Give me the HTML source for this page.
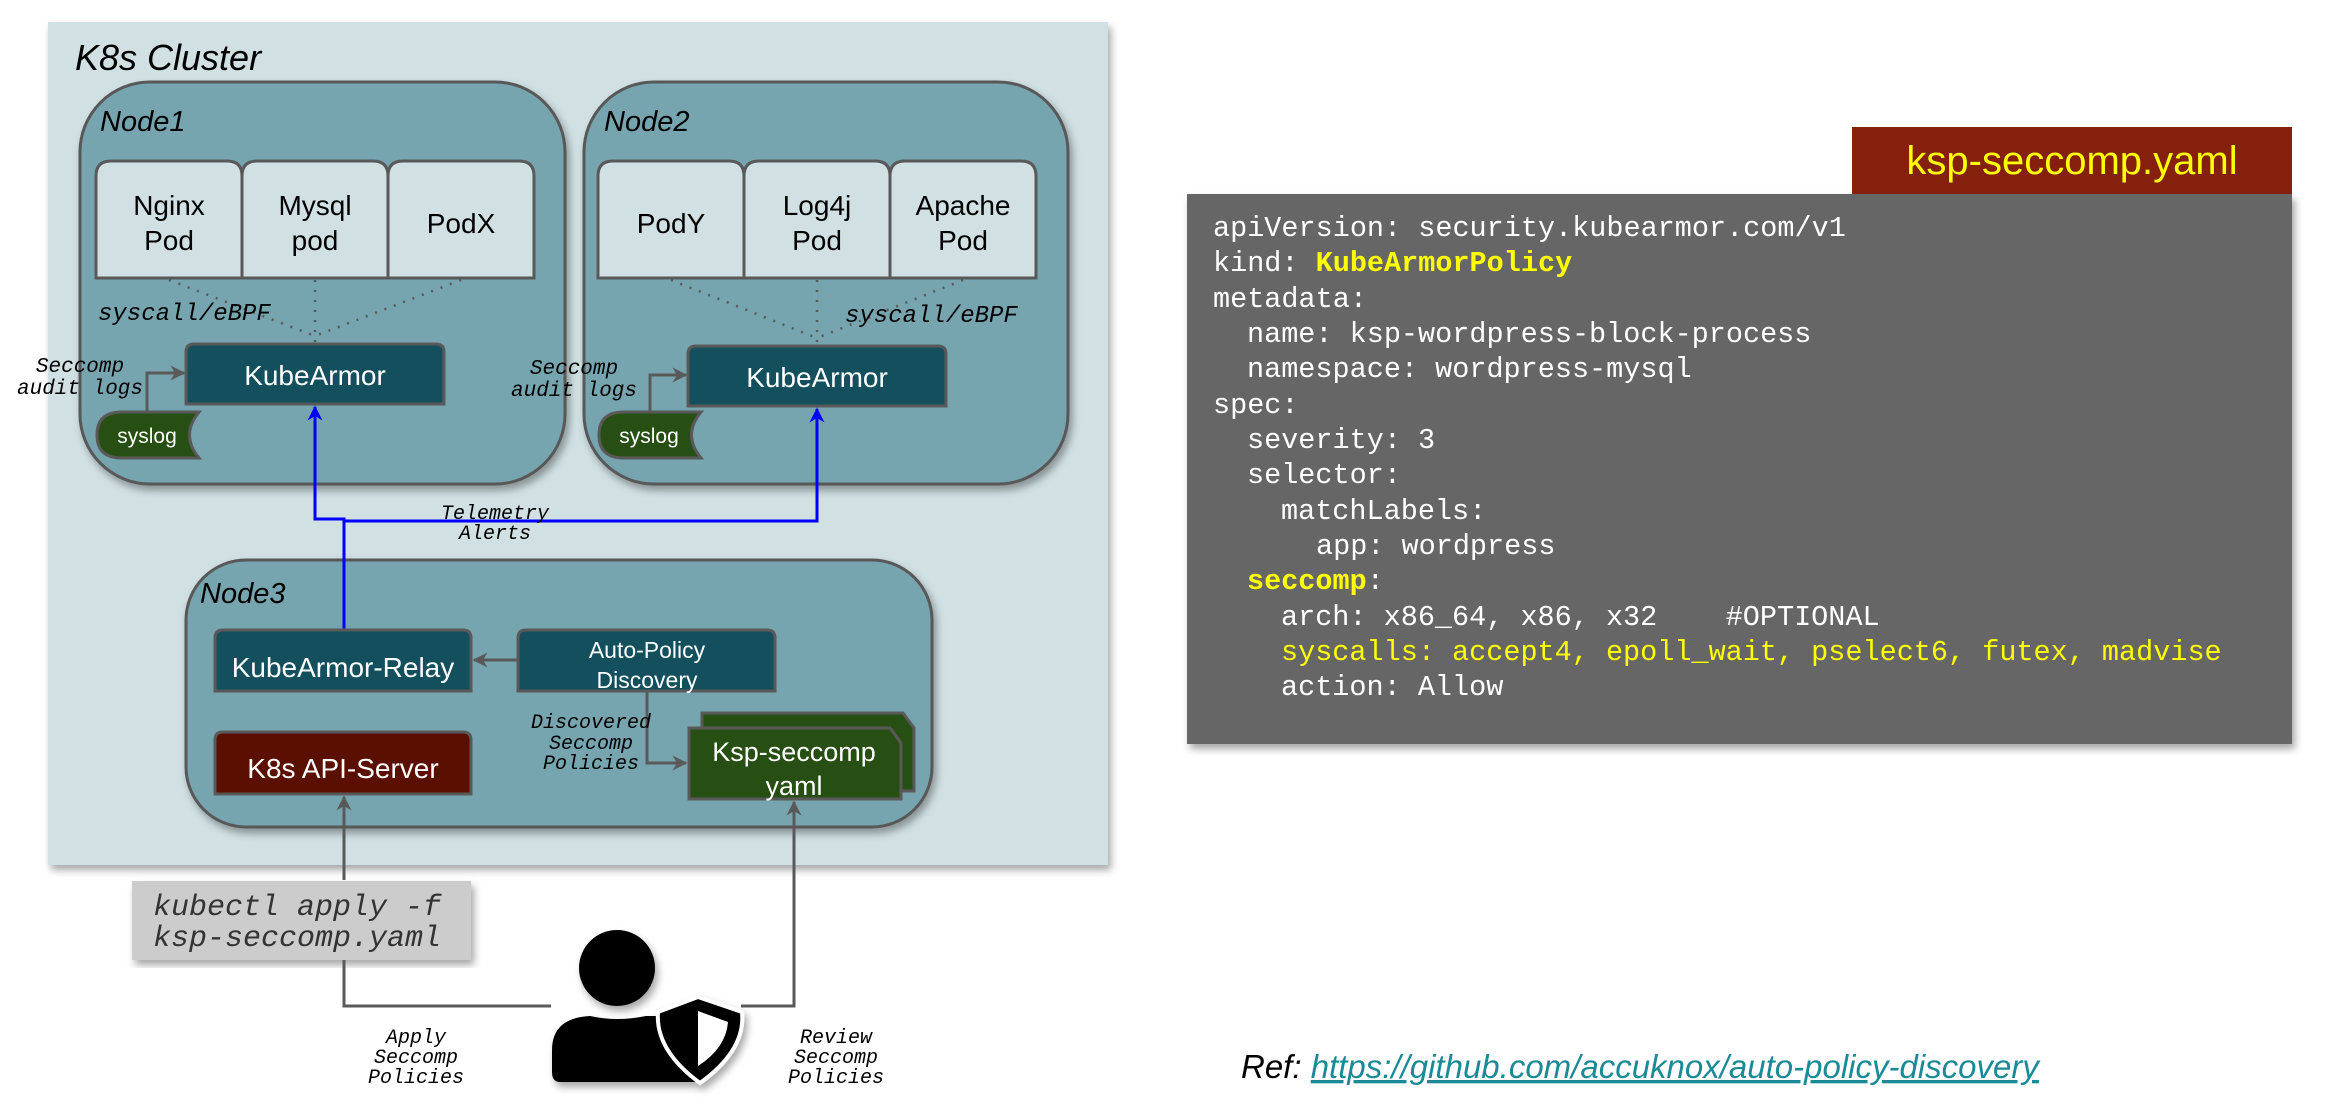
<!DOCTYPE html>
<html><head><meta charset="utf-8"><style>
html,body{margin:0;padding:0;background:#fff;}
svg{display:block;}
.s{font-family:"Liberation Sans",sans-serif;}
.m{font-family:"Liberation Mono",monospace;font-style:italic;}
.c{font-family:"Liberation Mono",monospace;white-space:pre;}
.c text{white-space:pre;}
</style></head><body>
<svg width="2327" height="1120" viewBox="0 0 2327 1120" xmlns="http://www.w3.org/2000/svg">
<defs>
<filter id="sh" x="-5%" y="-5%" width="115%" height="115%"><feDropShadow dx="3" dy="5" stdDeviation="4" flood-color="#000" flood-opacity="0.35"/></filter>
<marker id="ag" viewBox="0 0 10 10" refX="9" refY="5" markerWidth="5" markerHeight="5" orient="auto"><path d="M0 0 L10 5 L0 10 L3 5Z" fill="#595959"/></marker>
<marker id="ab" viewBox="0 0 10 10" refX="9" refY="5" markerWidth="5" markerHeight="5" orient="auto"><path d="M0 0 L10 5 L0 10 L3 5Z" fill="#0000ff"/></marker>
</defs>
<rect x="48" y="22" width="1060" height="843" fill="#d0e0e3" filter="url(#sh)"/>
<text x="75" y="70" class="s" font-size="36" font-style="italic" fill="#000">K8s Cluster</text>

<rect x="80" y="82" width="485" height="402" rx="70" fill="#76a5af" stroke="#595959" stroke-width="3" filter="url(#sh)"/>
<text x="100" y="131" class="s" font-size="29" font-style="italic">Node1</text>
<rect x="584" y="82" width="484" height="402" rx="70" fill="#76a5af" stroke="#595959" stroke-width="3" filter="url(#sh)"/>
<text x="604" y="131" class="s" font-size="29" font-style="italic">Node2</text>

<g fill="#d0e0e3" stroke="#595959" stroke-width="3">
<path d="M96 278 V176 Q96 161 111 161 H227 Q242 161 242 176 V278 Z"/>
<path d="M242 278 V176 Q242 161 257 161 H373 Q388 161 388 176 V278 Z"/>
<path d="M388 278 V176 Q388 161 403 161 H519 Q534 161 534 176 V278 Z"/>
<path d="M598 278 V176 Q598 161 613 161 H729 Q744 161 744 176 V278 Z"/>
<path d="M744 278 V176 Q744 161 759 161 H875 Q890 161 890 176 V278 Z"/>
<path d="M890 278 V176 Q890 161 905 161 H1021 Q1036 161 1036 176 V278 Z"/>
</g>
<g class="s" font-size="28" text-anchor="middle" fill="#000">
<text x="169" y="215">Nginx</text><text x="169" y="250">Pod</text>
<text x="315" y="215">Mysql</text><text x="315" y="250">pod</text>
<text x="461" y="233">PodX</text>
<text x="671" y="233">PodY</text>
<text x="817" y="215">Log4j</text><text x="817" y="250">Pod</text>
<text x="963" y="215">Apache</text><text x="963" y="250">Pod</text>
</g>
<g stroke="#595959" stroke-width="2.5" stroke-dasharray="2 8" fill="none">
<path d="M169 280 L315 336 M315 280 L315 343 M461 280 L315 336"/>
<path d="M671 280 L817 338 M817 280 L817 345 M963 280 L817 338"/>
</g>
<text x="98" y="320" class="m" font-size="24">syscall/eBPF</text>
<text x="845" y="322" class="m" font-size="24">syscall/eBPF</text>

<path d="M186 404 V352 Q186 344 194 344 H436 Q444 344 444 352 V404 Z" fill="#134f5c" stroke="#595959" stroke-width="3"/>
<text x="315" y="385" class="s" font-size="28" text-anchor="middle" fill="#fff">KubeArmor</text>
<path d="M688 406 V354 Q688 346 696 346 H938 Q946 346 946 354 V406 Z" fill="#134f5c" stroke="#595959" stroke-width="3"/>
<text x="817" y="387" class="s" font-size="28" text-anchor="middle" fill="#fff">KubeArmor</text>

<g class="m" font-size="21" text-anchor="middle">
<text x="80" y="372">Seccomp</text><text x="80" y="394">audit logs</text>
<text x="574" y="374">Seccomp</text><text x="574" y="396">audit logs</text>
</g>
<path d="M147 412 V373 H184" stroke="#595959" stroke-width="3" fill="none" marker-end="url(#ag)"/>
<path d="M650 412 V375 H686" stroke="#595959" stroke-width="3" fill="none" marker-end="url(#ag)"/>
<path d="M122 412 H199 Q180 435 199 458 H122 Q97 458 97 435 Q97 412 122 412 Z" fill="#274e13" stroke="#595959" stroke-width="3"/>
<text x="147" y="443" class="s" font-size="21" text-anchor="middle" fill="#fff">syslog</text>
<path d="M624 412 H701 Q682 435 701 458 H624 Q599 458 599 435 Q599 412 624 412 Z" fill="#274e13" stroke="#595959" stroke-width="3"/>
<text x="649" y="443" class="s" font-size="21" text-anchor="middle" fill="#fff">syslog</text>

<rect x="186" y="560" width="746" height="267" rx="60" fill="#76a5af" stroke="#595959" stroke-width="3" filter="url(#sh)"/>
<text x="200" y="603" class="s" font-size="29" font-style="italic">Node3</text>

<path d="M344 630 V519 H315 V407" stroke="#0000ff" stroke-width="3" fill="none" marker-end="url(#ab)"/>
<path d="M344 521 H817 V409" stroke="#0000ff" stroke-width="3" fill="none" marker-end="url(#ab)"/>
<g class="m" font-size="20" text-anchor="middle">
<text x="495" y="519">Telemetry</text><text x="495" y="539">Alerts</text>
</g>

<path d="M215 691 V638 Q215 630 223 630 H463 Q471 630 471 638 V691 Z" fill="#134f5c" stroke="#595959" stroke-width="3"/>
<text x="343" y="677" class="s" font-size="28" text-anchor="middle" fill="#fff">KubeArmor-Relay</text>
<path d="M518 691 V638 Q518 630 526 630 H767 Q775 630 775 638 V691 Z" fill="#134f5c" stroke="#595959" stroke-width="3"/>
<text x="647" y="658" class="s" font-size="23" text-anchor="middle" fill="#fff">Auto-Policy</text>
<text x="647" y="688" class="s" font-size="23" text-anchor="middle" fill="#fff">Discovery</text>
<path d="M517 660 H474" stroke="#595959" stroke-width="3" marker-end="url(#ag)"/>

<path d="M215 794 V740 Q215 732 223 732 H463 Q471 732 471 740 V794 Z" fill="#5b0f00" stroke="#595959" stroke-width="3"/>
<text x="343" y="778" class="s" font-size="28" text-anchor="middle" fill="#fff">K8s API-Server</text>

<path d="M702 713 H903 L914 728 V791 H702 Z" fill="#274e13" stroke="#595959" stroke-width="3"/>
<path d="M689 728 H890 L901 743 V799 H689 Z" fill="#274e13" stroke="#595959" stroke-width="3"/>
<text x="794" y="761" class="s" font-size="27" text-anchor="middle" fill="#fff">Ksp-seccomp</text>
<text x="794" y="795" class="s" font-size="27" text-anchor="middle" fill="#fff">yaml</text>
<path d="M647 692 V763 H686" stroke="#595959" stroke-width="3" fill="none" marker-end="url(#ag)"/>
<g class="m" font-size="20" text-anchor="middle">
<text x="591" y="728">Discovered</text><text x="591" y="749">Seccomp</text><text x="591" y="769">Policies</text>
</g>

<rect x="132" y="881" width="339" height="79" fill="#cccccc" filter="url(#sh)"/>
<text x="153" y="915" class="m" font-size="30" fill="#333">kubectl apply -f</text>
<text x="153" y="946" class="m" font-size="30" fill="#333">ksp-seccomp.yaml</text>
<path d="M344 880 V797" stroke="#595959" stroke-width="3" marker-end="url(#ag)"/>
<path d="M344 960 V1006 H551" stroke="#595959" stroke-width="3" fill="none"/>
<path d="M741 1006 H794 V802" stroke="#595959" stroke-width="3" fill="none" marker-end="url(#ag)"/>

<g filter="url(#sh)">
<circle cx="617" cy="968" r="38" fill="#000"/>
<path d="M560 1082 Q552 1082 552 1072 V1050 Q552 1018 590 1016 Q617 1022 646 1016 L676 1016 Q676 1055 700 1082 Z" fill="#000"/>
<path d="M698 997 L742 1012 Q746 1050 700 1083 Q655 1050 658 1012 Z" fill="#000" stroke="#fff" stroke-width="4"/>
<path d="M698 1011 L728 1022 Q726 1048 698 1066 Z" fill="#fff"/>
</g>
<g class="m" font-size="20" text-anchor="middle">
<text x="416" y="1043">Apply</text><text x="416" y="1063">Seccomp</text><text x="416" y="1083">Policies</text>
<text x="836" y="1043">Review</text><text x="836" y="1063">Seccomp</text><text x="836" y="1083">Policies</text>
</g>

<rect x="1187" y="194" width="1105" height="550" fill="#666666" filter="url(#sh)"/>
<rect x="1852" y="127" width="440" height="67" fill="#85200c"/>
<text x="2072" y="174" class="s" font-size="40" text-anchor="middle" fill="#ffff00">ksp-seccomp.yaml</text>
<g class="c" font-size="28.5" fill="#fff">
<text x="1213" y="236">apiVersion: security.kubearmor.com/v1</text>
<text x="1213" y="271">kind: <tspan fill="#ffff00" font-weight="bold">KubeArmorPolicy</tspan></text>
<text x="1213" y="307">metadata:</text>
<text x="1247" y="342">name: ksp-wordpress-block-process</text>
<text x="1247" y="377">namespace: wordpress-mysql</text>
<text x="1213" y="413">spec:</text>
<text x="1247" y="448">severity: 3</text>
<text x="1247" y="483">selector:</text>
<text x="1281" y="519">matchLabels:</text>
<text x="1316" y="554">app: wordpress</text>
<text x="1247" y="589"><tspan fill="#ffff00" font-weight="bold">seccomp</tspan>:</text>
<text x="1281" y="625">arch: x86_64, x86, x32    #OPTIONAL</text>
<text x="1281" y="660" fill="#ffff00">syscalls: accept4, epoll_wait, pselect6, futex, madvise</text>
<text x="1281" y="695">action: Allow</text>
</g>
<text x="1241" y="1078" class="s" font-size="33" font-style="italic">Ref: <tspan fill="#1a8a96" text-decoration="underline">https://github.com/accuknox/auto-policy-discovery</tspan></text>
</svg>
</body></html>
